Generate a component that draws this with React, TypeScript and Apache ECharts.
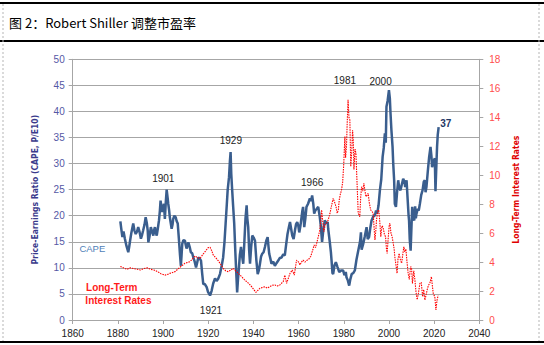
import React, { useEffect, useRef } from "react";
import * as echarts from "echarts";

const TITLE = "图 2：Robert Shiller 调整市盈率";
const LEFT_AXIS_NAME = "Price-Earnings Ratio (CAPE, P/E10)";
const RIGHT_AXIS_NAME = "Long-Term Interest Rates";

// [year, CAPE]
const capeData: [number, number][] = [
  [1881.1, 18.9], [1881.5, 17.5], [1882.0, 15.9], [1882.5, 17.0], [1883.1, 15.6], [1883.8, 14.2], [1884.6, 13.0],
  [1885.0, 14.0], [1885.4, 15.2], [1886.0, 16.8], [1886.8, 18.5], [1887.3, 17.2], [1887.9, 16.5], [1888.5, 17.0],
  [1889.0, 17.8], [1889.6, 16.9], [1890.2, 15.6], [1890.7, 16.3], [1891.2, 17.2], [1891.8, 18.3], [1892.3, 19.7],
  [1892.8, 18.6], [1893.2, 17.2], [1893.5, 14.9], [1894.0, 16.0], [1894.6, 17.8], [1895.1, 17.0], [1895.7, 16.2],
  [1896.0, 17.2], [1896.4, 17.8], [1896.8, 16.8], [1897.2, 16.2], [1897.7, 17.6], [1898.2, 19.1], [1898.6, 21.0],
  [1898.9, 22.9], [1899.3, 21.5], [1899.6, 20.7], [1900.0, 21.6], [1900.4, 22.3], [1900.8, 19.4], [1901.2, 22.5],
  [1901.6, 25.0], [1902.0, 23.5], [1902.3, 22.3], [1902.7, 21.0], [1903.0, 19.7], [1903.4, 18.6], [1903.8, 17.5],
  [1904.2, 18.3], [1904.5, 19.4], [1905.0, 20.0], [1905.6, 19.7], [1906.0, 19.0], [1906.5, 18.5], [1907.0, 15.6],
  [1907.5, 12.5], [1907.9, 10.4], [1908.2, 12.5], [1908.5, 14.6], [1909.0, 15.3], [1909.7, 15.2], [1910.0, 14.5],
  [1910.4, 13.7], [1910.8, 14.2], [1911.2, 14.9], [1911.8, 14.0], [1912.3, 13.0], [1912.9, 12.8], [1913.4, 12.0],
  [1914.0, 11.2], [1914.6, 10.1], [1915.1, 11.0], [1915.6, 12.0], [1916.2, 11.8], [1916.8, 11.4], [1917.3, 9.0],
  [1917.8, 6.9], [1918.5, 6.9], [1919.3, 6.3], [1919.9, 5.4], [1920.4, 5.0], [1920.8, 4.7], [1921.2, 5.2],
  [1921.5, 5.6], [1922.2, 7.0], [1923.0, 8.0], [1923.7, 7.5], [1924.4, 7.9], [1925.2, 8.8], [1926.0, 10.5],
  [1926.6, 12.0], [1927.2, 15.0], [1927.7, 18.5], [1928.2, 22.0], [1928.6, 24.9], [1929.2, 27.4], [1929.6, 30.5],
  [1929.9, 32.2], [1930.2, 28.0], [1930.6, 24.9], [1931.0, 22.0], [1931.5, 18.5], [1932.0, 13.0], [1932.3, 10.1],
  [1932.8, 5.3], [1933.2, 8.0], [1933.6, 10.1], [1934.0, 12.5], [1934.5, 14.0], [1935.0, 12.2], [1935.5, 10.8],
  [1936.0, 15.0], [1936.5, 19.5], [1937.0, 22.0], [1937.3, 19.5], [1937.7, 17.8], [1938.1, 13.5], [1938.5, 10.8],
  [1939.0, 14.0], [1939.5, 16.2], [1940.1, 15.8], [1940.7, 15.2], [1941.3, 11.5], [1941.9, 8.8], [1942.4, 9.5],
  [1942.9, 10.8], [1943.4, 12.2], [1943.9, 12.7], [1944.5, 13.0], [1945.1, 14.0], [1945.7, 15.2], [1946.3, 15.9],
  [1946.7, 14.0], [1947.0, 12.7], [1947.5, 11.8], [1948.0, 10.8], [1948.8, 11.2], [1949.5, 10.4], [1950.2, 10.9],
  [1951.0, 11.4], [1951.7, 11.9], [1952.5, 12.0], [1953.2, 12.6], [1953.9, 12.4], [1954.5, 14.5], [1955.1, 16.5],
  [1955.7, 17.8], [1956.2, 18.8], [1956.7, 17.5], [1957.2, 16.2], [1957.8, 15.5], [1958.4, 17.2], [1958.9, 18.4],
  [1959.4, 18.8], [1959.9, 18.0], [1960.3, 16.8], [1960.8, 18.0], [1961.3, 19.7], [1961.7, 21.0], [1962.0, 21.7],
  [1962.5, 17.8], [1963.0, 19.5], [1963.5, 21.7], [1964.2, 22.3], [1965.0, 23.3], [1965.5, 22.8], [1966.0, 23.9],
  [1966.5, 22.3], [1966.9, 20.4], [1967.4, 21.0], [1967.8, 21.2], [1968.7, 21.7], [1969.3, 20.0], [1969.8, 18.2],
  [1970.4, 15.0], [1971.0, 17.5], [1971.6, 19.1], [1972.3, 18.5], [1972.9, 18.8], [1973.1, 17.5], [1973.8, 15.0],
  [1974.3, 13.0], [1974.6, 11.4], [1975.0, 9.0], [1975.3, 8.8], [1975.9, 10.5], [1976.5, 11.1], [1977.2, 10.2],
  [1978.0, 9.2], [1978.8, 9.5], [1979.7, 9.5], [1980.3, 8.6], [1980.9, 9.2], [1981.2, 8.2], [1981.8, 7.6],
  [1982.4, 6.6], [1982.9, 7.8], [1983.5, 8.8], [1984.2, 9.0], [1984.9, 9.5], [1985.6, 11.5], [1986.4, 13.3],
  [1987.2, 15.0], [1987.6, 16.8], [1987.9, 13.5], [1988.6, 14.6], [1989.3, 16.0], [1990.1, 17.8], [1990.6, 15.5],
  [1991.2, 15.9], [1991.8, 17.8], [1992.3, 19.1], [1993.0, 19.8], [1993.8, 20.1], [1994.3, 21.0], [1994.8, 20.4],
  [1995.4, 22.0], [1996.0, 24.9], [1996.6, 27.0], [1997.2, 31.3], [1997.7, 33.0], [1998.2, 35.8], [1998.6, 34.0],
  [1998.9, 40.9], [1999.4, 42.0], [2000.0, 44.1], [2000.4, 42.5], [2000.7, 39.6], [2001.1, 36.4], [2001.6, 33.2],
  [2001.9, 30.0], [2002.3, 26.8], [2002.6, 22.3], [2003.1, 21.7], [2003.6, 24.5], [2004.1, 26.8], [2004.6, 25.2],
  [2005.1, 24.9], [2005.7, 26.0], [2006.3, 27.1], [2006.9, 26.5], [2007.2, 25.5], [2007.8, 26.8], [2008.3, 23.0],
  [2008.7, 20.0], [2008.9, 19.1], [2009.2, 15.5], [2009.6, 13.3], [2009.9, 17.0], [2010.3, 21.7], [2010.7, 19.5],
  [2011.2, 19.1], [2011.6, 21.8], [2011.9, 19.5], [2012.2, 20.4], [2012.8, 21.3], [2013.2, 21.0], [2013.7, 22.3],
  [2014.3, 24.0], [2014.9, 24.9], [2015.4, 26.5], [2015.9, 26.8], [2016.2, 24.5], [2016.6, 25.5], [2017.2, 28.5],
  [2017.8, 31.3], [2018.4, 33.2], [2018.8, 31.5], [2019.1, 29.3], [2019.5, 30.0], [2019.9, 30.6], [2020.3, 31.0],
  [2020.6, 24.7], [2020.9, 28.5], [2021.3, 33.2], [2021.6, 35.5], [2022.0, 37.0],
];

// [year, long-term interest rate %]
const rateData: [number, number][] = [
  [1881.1, 3.7], [1882.5, 3.6], [1884.0, 3.5], [1885.5, 3.6], [1887.0, 3.55], [1888.5, 3.5], [1890.0, 3.45],
  [1891.5, 3.55], [1893.0, 3.6], [1894.5, 3.5], [1896.0, 3.45], [1897.5, 3.35], [1899.0, 3.2], [1900.8, 3.1],
  [1902.0, 3.15], [1903.0, 3.22], [1905.3, 3.34], [1907.5, 3.64], [1909.7, 3.92], [1911.9, 4.03], [1913.0, 4.2],
  [1914.1, 4.42], [1915.3, 4.3], [1916.4, 4.26], [1917.5, 4.5], [1918.6, 4.72], [1920.0, 5.0], [1920.8, 5.02],
  [1921.5, 4.8], [1922.2, 4.49], [1923.3, 4.3], [1924.4, 4.1], [1925.5, 3.85], [1926.6, 3.57], [1927.7, 3.4],
  [1928.8, 3.34], [1930.0, 3.45], [1931.1, 3.57], [1932.0, 3.4], [1932.6, 3.34], [1933.7, 3.15], [1934.8, 2.99],
  [1935.9, 2.8], [1937.0, 2.65], [1938.1, 2.5], [1939.2, 2.3], [1940.2, 2.1], [1941.1, 1.91], [1942.0, 2.05],
  [1942.9, 2.19], [1944.0, 2.25], [1945.1, 2.3], [1946.2, 2.2], [1947.3, 2.3], [1948.4, 2.4], [1949.5, 2.42],
  [1950.6, 2.35], [1951.7, 2.42], [1952.5, 2.55], [1953.2, 2.65], [1953.9, 3.1], [1954.7, 2.53], [1955.5, 2.9],
  [1956.2, 3.22], [1957.2, 3.45], [1958.1, 3.1], [1959.1, 4.14], [1960.0, 4.0], [1960.6, 3.8], [1961.3, 4.0],
  [1962.0, 4.14], [1962.8, 4.0], [1963.5, 4.1], [1964.5, 4.2], [1965.4, 4.4], [1966.2, 4.8], [1966.9, 5.18],
  [1967.5, 5.0], [1968.0, 5.3], [1968.8, 5.8], [1969.4, 6.2], [1969.9, 7.0], [1970.2, 7.6], [1970.7, 6.8],
  [1971.2, 6.1], [1971.8, 6.6], [1972.4, 6.68], [1973.1, 6.9], [1973.9, 7.37], [1974.6, 7.9], [1975.3, 8.4],
  [1976.1, 8.06], [1976.6, 7.8], [1977.1, 7.37], [1977.6, 7.6], [1978.0, 8.29], [1978.5, 8.7], [1979.0, 8.98],
  [1979.5, 9.5], [1980.0, 10.8], [1980.3, 12.0], [1980.5, 12.66], [1980.8, 11.2], [1981.2, 11.97], [1981.5, 13.5],
  [1981.9, 15.2], [1982.3, 14.0], [1982.7, 13.8], [1983.1, 10.6], [1983.5, 11.5], [1983.9, 13.1], [1984.2, 12.5],
  [1984.5, 10.4], [1985.0, 11.8], [1985.4, 11.5], [1985.7, 10.2], [1986.0, 8.98], [1986.4, 7.37], [1987.1, 7.13],
  [1987.5, 8.5], [1987.9, 9.2], [1988.4, 8.9], [1988.9, 9.44], [1989.3, 9.0], [1989.8, 8.52], [1990.3, 8.6],
  [1990.8, 8.75], [1991.3, 8.1], [1991.9, 7.6], [1992.5, 7.5], [1993.0, 7.37], [1993.8, 5.52], [1994.2, 6.2],
  [1994.5, 6.9], [1995.0, 7.5], [1995.5, 7.6], [1996.0, 6.68], [1996.4, 5.75], [1996.9, 6.5], [1997.4, 6.4],
  [1998.0, 5.9], [1998.5, 5.75], [1998.9, 4.9], [1999.2, 4.6], [1999.6, 5.5], [2000.1, 6.5], [2000.4, 6.68],
  [2000.9, 6.0], [2001.4, 5.75], [2001.9, 5.3], [2002.3, 4.9], [2002.6, 4.37], [2003.1, 3.8], [2003.6, 3.22],
  [2004.0, 4.2], [2004.5, 4.6], [2005.0, 4.2], [2005.6, 3.92], [2006.1, 4.5], [2006.6, 5.06], [2007.0, 4.7],
  [2007.5, 4.9], [2008.0, 4.0], [2008.5, 3.22], [2009.0, 2.8], [2009.6, 3.68], [2010.0, 3.6], [2010.4, 2.53],
  [2011.0, 3.4], [2011.5, 2.76], [2012.0, 1.9], [2012.5, 1.4], [2013.0, 1.8], [2013.7, 2.53], [2014.3, 2.6],
  [2014.9, 1.61], [2015.4, 2.1], [2015.9, 1.38], [2016.4, 1.7], [2016.9, 2.07], [2017.5, 2.4], [2018.1, 2.53],
  [2018.8, 2.99], [2019.2, 2.4], [2019.6, 1.84], [2020.0, 1.7], [2020.3, 1.61], [2020.8, 0.69], [2021.3, 1.38],
  [2021.8, 1.7],
];

// annotation labels: [text, year, CAPE-axis value]
const peakLabels: [string, number, number][] = [
  ["1901", 1900.1, 27.1],
  ["1921", 1921.2, 1.9],
  ["1929", 1930.0, 34.5],
  ["1966", 1966.0, 26.3],
  ["1981", 1980.5, 45.9],
  ["2000", 1996.3, 45.8],
];
const lastLabel: [string, number, number] = ["37", 2025.2, 37.6];
const capeLegend: [string, number, number] = ["CAPE", 1868.7, 13.8];
const rateLegend: [string, number, number][] = [
  ["Long-Term", 1865.9, 6.15],
  ["Interest Rates", 1865.6, 3.7],
];

const FONT = "'Liberation Sans', Arial, sans-serif";
const NARROW = "'Liberation Sans Narrow', 'DejaVu Sans Condensed', sans-serif";
const CAPE_COLOR = "#3a5e8e";
const GRID_COLOR = "#a6a6a6";

export default function App() {
  const ref = useRef<HTMLDivElement>(null);
  useEffect(() => {
    if (!ref.current) return;
    const chart = echarts.init(ref.current, null, { renderer: "svg" });

    const mk = (
      item: [string, number, number],
      style: Record<string, unknown>,
      left = false
    ) => ({
      name: item[0],
      coord: [item[1], item[2]],
      symbolSize: 0,
      label: {
        show: true,
        formatter: "{b}",
        position: left ? "right" : "inside",
        distance: 0,
        fontFamily: FONT,
        ...style,
      },
    });

    chart.setOption({
      animation: false,
      textStyle: { fontFamily: FONT },
      grid: { left: 72.7, right: 64.7, top: 59.3, bottom: 25, containLabel: false },
      xAxis: {
        type: "value",
        min: 1860,
        max: 2040,
        interval: 20,
        axisLine: { show: true, onZero: false, lineStyle: { color: GRID_COLOR } },
        axisTick: { show: true, length: 4, lineStyle: { color: GRID_COLOR } },
        splitLine: { show: false },
        axisLabel: {
          color: "#222",
          fontSize: 10,
          margin: 8,
          fontFamily: FONT,
          formatter: (v: number) => String(v),
        },
      },
      yAxis: [
        {
          type: "value",
          min: 0,
          max: 50,
          interval: 5,
          position: "left",
          axisLine: { show: true, lineStyle: { color: GRID_COLOR } },
          axisTick: { show: true, length: 4, lineStyle: { color: GRID_COLOR } },
          splitLine: { show: true, lineStyle: { color: GRID_COLOR, width: 1 } },
          axisLabel: { color: "#5558a5", fontSize: 10, margin: 8, fontFamily: FONT },
          name: LEFT_AXIS_NAME,
          nameLocation: "middle",
          nameGap: 33,
          nameTextStyle: { color: "#3a3a8c", fontWeight: "bold", fontSize: 8.5, fontFamily: NARROW },
        },
        {
          type: "value",
          min: 0,
          max: 18,
          interval: 2,
          position: "right",
          axisLine: { show: true, lineStyle: { color: GRID_COLOR } },
          axisTick: { show: true, length: 4, lineStyle: { color: GRID_COLOR } },
          splitLine: { show: false },
          axisLabel: { color: "#ff4d4d", fontSize: 10, margin: 10, fontFamily: FONT },
          name: RIGHT_AXIS_NAME,
          nameLocation: "middle",
          nameGap: 24,
          nameTextStyle: { color: "#e00000", fontWeight: "bold", fontSize: 8.5, fontFamily: NARROW },
        },
      ],
      series: [
        {
          type: "line",
          name: "CAPE",
          data: capeData,
          yAxisIndex: 0,
          showSymbol: false,
          lineStyle: { color: CAPE_COLOR, width: 2.5 },
          itemStyle: { color: CAPE_COLOR },
          markPoint: {
            silent: true,
            symbol: "circle",
            data: [
              ...peakLabels.map((p) => mk(p, { color: "#222", fontSize: 10 })),
              mk(lastLabel, { color: "#1f3864", fontSize: 10, fontWeight: "bold" }),
              mk(capeLegend, { color: "#4f7fb8", fontSize: 9.5 }),
              ...rateLegend.map((p) => mk(p, { color: "#ff1a1a", fontSize: 10, fontWeight: "bold" }, true)),
            ],
          },
        },
        {
          type: "line",
          name: "Long-Term Interest Rates",
          data: rateData,
          yAxisIndex: 1,
          showSymbol: false,
          lineStyle: { color: "#ff0000", width: 1.1, type: [1.5, 1] },
          itemStyle: { color: "#ff0000" },
        },
      ],
      graphic: [
        {
          type: "text",
          silent: true,
          style: {
            text: TITLE,
            x: 9,
            y: 22,
            fill: "#000",
            font: "13px 'Noto Sans CJK SC', sans-serif",
            verticalAlign: "middle",
          },
        },
        { type: "line", silent: true, shape: { x1: 0, y1: 3, x2: 544, y2: 3 }, style: { stroke: "#000", lineWidth: 2 } },
        { type: "line", silent: true, shape: { x1: 0, y1: 41, x2: 544, y2: 41 }, style: { stroke: "#000", lineWidth: 2 } },
        { type: "line", silent: true, shape: { x1: 0, y1: 342, x2: 544, y2: 342 }, style: { stroke: "#000", lineWidth: 2 } },
        { type: "line", silent: true, shape: { x1: 3, y1: 4, x2: 3, y2: 341 }, style: { stroke: "#b5b5b5", lineWidth: 1, lineDash: [2, 2] } },
        { type: "line", silent: true, shape: { x1: 539, y1: 4, x2: 539, y2: 341 }, style: { stroke: "#b5b5b5", lineWidth: 1, lineDash: [2, 2] } },
      ],
    });
    return () => chart.dispose();
  }, []);

  return (
    <div
      ref={ref}
      style={{ position: "fixed", left: 0, top: 0, width: 544, height: 345, background: "#fff" }}
    />
  );
}
